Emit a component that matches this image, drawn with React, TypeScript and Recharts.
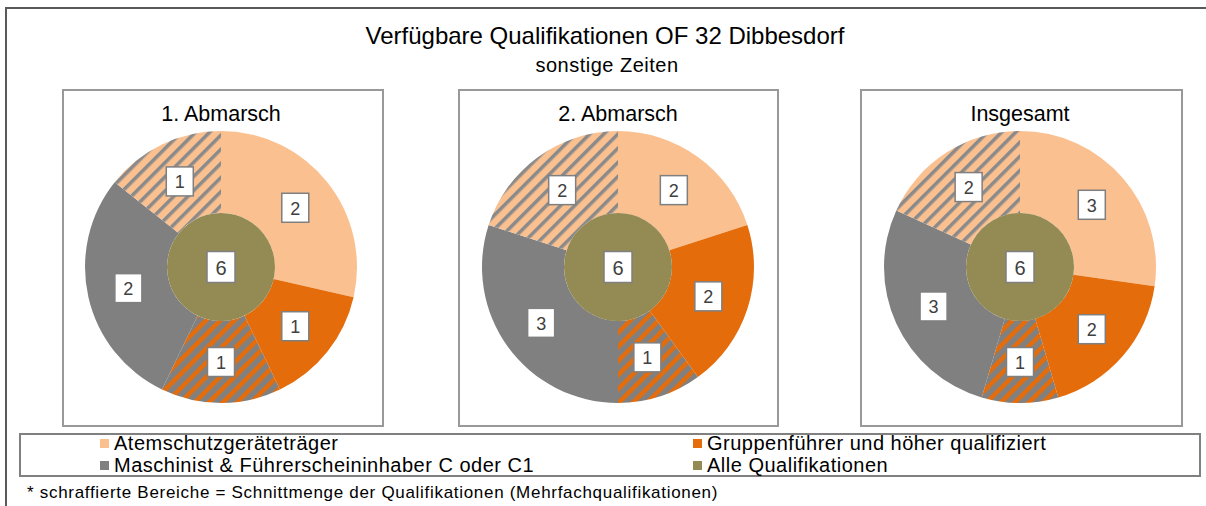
import React from 'react';
import { PieChart, Pie, Cell } from 'recharts';

// Segmente im äußeren Ring, im Uhrzeigersinn ab 12 Uhr
const segments = [
  'Atemschutzgeräteträger',
  'Gruppenführer und höher qualifiziert',
  'Gruppenführer + Maschinist',
  'Maschinist & Führerscheininhaber C oder C1',
  'Atemschutz + Maschinist',
];
const segmentFills = ['#FAC090', '#E46C0A', 'url(#hatchOrange)', '#808080', 'url(#hatchLight)'];

const chartTitles = ['1. Abmarsch', '2. Abmarsch', 'Insgesamt'];
const abmarsch1 = [2, 1, 1, 2, 1];
const abmarsch2 = [2, 2, 1, 3, 2];
const insgesamt = [3, 2, 1, 3, 2];
const alleQualifikationen = [6, 6, 6];

const legendItems = [
  { name: 'Atemschutzgeräteträger', color: '#FAC090' },
  { name: 'Gruppenführer und höher qualifiziert', color: '#E46C0A' },
  { name: 'Maschinist & Führerscheininhaber C oder C1', color: '#808080' },
  { name: 'Alle Qualifikationen', color: '#948A54' },
];

const FONT = '"Liberation Sans", Arial, sans-serif';
const RAD = Math.PI / 180;
const centersX = [221, 618, 1020];
const CY = 267;
const OUTER = 136;
const INNER = 54;

const series = [abmarsch1, abmarsch2, insgesamt];

const ringLabel = (props: any) => {
  const { cx, cy, midAngle, innerRadius, outerRadius, value } = props;
  const r = (innerRadius + outerRadius) / 2;
  const x = cx + r * Math.cos(-midAngle * RAD);
  const y = cy + r * Math.sin(-midAngle * RAD);
  return (
    <g>
      <rect x={x - 13.5} y={y - 14.5} width={27} height={29} fill="#fff" stroke="#7f7f7f" strokeWidth={1.5} />
      <text x={x} y={y + 1} textAnchor="middle" dominantBaseline="central" fontSize={18} fill="#404040" fontFamily={FONT}>
        {value}
      </text>
    </g>
  );
};

const centerLabel = (props: any) => {
  const { cx, cy, value } = props;
  return (
    <g>
      <rect x={cx - 14} y={cy - 15.5} width={28} height={31} fill="#fff" stroke="#7f7f7f" strokeWidth={1.5} />
      <text x={cx} y={cy + 1} textAnchor="middle" dominantBaseline="central" fontSize={20} fill="#404040" fontFamily={FONT}>
        {value}
      </text>
    </g>
  );
};

const boxes = [
  { left: 62, width: 320 },
  { left: 458, width: 319 },
  { left: 860, width: 321 },
];

export default function App() {
  return (
    <div
      style={{
        position: 'absolute',
        left: 0,
        top: 0,
        width: 1206,
        height: 506,
        overflow: 'hidden',
        background: '#fff',
        fontFamily: FONT,
        color: '#000',
      }}
    >
      <svg width={0} height={0} style={{ position: 'absolute' }}>
        <defs>
          <pattern id="hatchOrange" patternUnits="userSpaceOnUse" width={10} height={10} patternTransform="rotate(45)">
            <rect width={10} height={10} fill="#808080" />
            <rect width={4.5} height={10} fill="#E46C0A" />
          </pattern>
          <pattern id="hatchLight" patternUnits="userSpaceOnUse" width={10} height={10} patternTransform="rotate(45)">
            <rect width={10} height={10} fill="#FAC090" />
            <rect width={3.5} height={10} fill="#8a8a8a" />
          </pattern>
        </defs>
      </svg>

      {/* äußerer Rahmen */}
      <div style={{ position: 'absolute', left: 5, top: 7, width: 1220, height: 520, borderLeft: '2px solid #595959', borderTop: '2px solid #595959' }} />

      {boxes.map((b, i) => (
        <div
          key={i}
          style={{ position: 'absolute', left: b.left, top: 89, width: b.width - 2, height: 336 - 2, border: '2px solid #999' }}
        />
      ))}

      <div style={{ position: 'absolute', left: 0, width: 1210, top: 21, textAlign: 'center', fontSize: 24, lineHeight: '29px' }}>
        Verfügbare Qualifikationen OF 32 Dibbesdorf
      </div>
      <div style={{ position: 'absolute', left: 0, width: 1214, top: 53, textAlign: 'center', fontSize: 20, lineHeight: '24px', letterSpacing: 0.5 }}>
        sonstige Zeiten
      </div>

      {chartTitles.map((t, i) => (
        <div
          key={t}
          style={{ position: 'absolute', left: centersX[i] - 150, width: 300, top: 101, textAlign: 'center', fontSize: 21.5, lineHeight: '26px' }}
        >
          {t}
        </div>
      ))}

      <div style={{ position: 'absolute', left: 0, top: 0 }}>
        <PieChart width={1206} height={506} margin={{ top: 0, right: 0, bottom: 0, left: 0 }}>
          {series.map((vals, i) => (
            <Pie
              key={`ring-${i}`}
              data={vals.map((v, j) => ({ name: segments[j], value: v }))}
              dataKey="value"
              cx={centersX[i]}
              cy={CY}
              innerRadius={INNER}
              outerRadius={OUTER}
              startAngle={90}
              endAngle={-270}
              stroke="none"
              label={ringLabel}
              labelLine={false}
              isAnimationActive={false}
            >
              {vals.map((_, j) => (
                <Cell key={j} fill={segmentFills[j]} />
              ))}
            </Pie>
          ))}
          {alleQualifikationen.map((v, i) => (
            <Pie
              key={`center-${i}`}
              data={[{ name: 'Alle Qualifikationen', value: v }]}
              dataKey="value"
              cx={centersX[i]}
              cy={CY}
              innerRadius={0}
              outerRadius={INNER}
              startAngle={90}
              endAngle={-270}
              stroke="none"
              fill="#948A54"
              label={centerLabel}
              labelLine={false}
              isAnimationActive={false}
            />
          ))}
        </PieChart>
      </div>

      {/* Legende */}
      <div style={{ position: 'absolute', left: 19, top: 433, width: 1182 - 4, height: 44 - 4, border: '2px solid #808080' }} />
      {legendItems.map((it, i) => {
        const col = i % 2;
        const row = Math.floor(i / 2);
        const x = col === 0 ? 100 : 693;
        const y = row === 0 ? 443 : 465;
        return (
          <div key={it.name} style={{ position: 'absolute', left: x, top: y - 11, height: 22, display: 'flex', alignItems: 'center', whiteSpace: 'nowrap' }}>
            <span style={{ display: 'inline-block', width: 9, height: 9, background: it.color, marginRight: 5 }} />
            <span style={{ fontSize: 20, lineHeight: '22px', letterSpacing: 0.5 }}>{it.name}</span>
          </div>
        );
      })}

      <div style={{ position: 'absolute', left: 27, top: 483, fontSize: 17, lineHeight: '20px', letterSpacing: 0.7, whiteSpace: 'nowrap' }}>
        * schraffierte Bereiche = Schnittmenge der Qualifikationen (Mehrfachqualifikationen)
      </div>
    </div>
  );
}
